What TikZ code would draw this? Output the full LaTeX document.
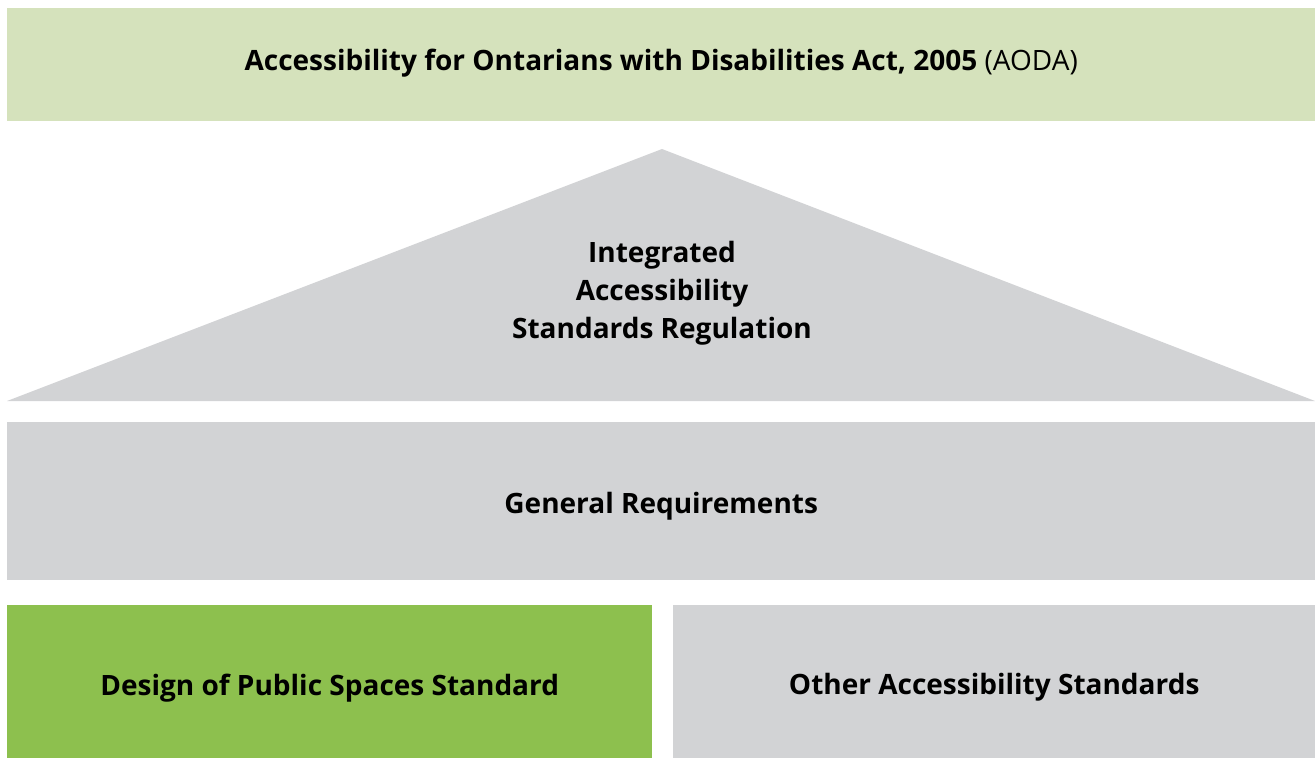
\documentclass[tikz,border=0pt]{standalone}
\usepackage{fontspec}
\setmainfont{Open Sans}
\usepackage{tikz}
\usetikzlibrary{positioning}

\definecolor{actgreen}{RGB}{213,226,188}
\definecolor{stdgrey}{RGB}{210,211,213}
\definecolor{dpsgreen}{RGB}{141,192,78}

\tikzset{
  block/.style={fill=stdgrey, draw=none, inner sep=0pt, anchor=north west},
  label/.style={font=\fontsize{28}{38}\selectfont\bfseries, align=center},
}

\begin{document}
\begin{tikzpicture}[x=1pt, y=-1pt]
  \useasboundingbox (0,0) rectangle (1315,758);
  % act banner
  \node[block, fill=actgreen, minimum width=1308pt, minimum height=113pt] (act) at (7,8) {};
  \node[label, yshift=2pt] (acttext) at (act.center)
    {Accessibility for Ontarians with Disabilities Act, 2005 \mdseries(AODA)};
  % regulation roof
  \fill[stdgrey] (7,401) -- (662,149) -- (1315,401) -- cycle;
  \node[label] (ias) at (662,293) {Integrated\\Accessibility\\Standards Regulation};
  % general requirements
  \node[block, minimum width=1308pt, minimum height=158pt] (gen) at (7,422) {};
  \node[label, yshift=-5pt] (gentext) at (gen.center) {General Requirements};
  % standards
  \node[block, fill=dpsgreen, minimum width=645pt, minimum height=153pt] (dps) at (7,605) {};
  \node[label, yshift=-6pt] (dpstext) at (dps.center) {Design of Public Spaces Standard};
  \node[block, minimum width=642pt, minimum height=153pt] (oth) at (673,605) {};
  \node[label, yshift=-6pt] (othtext) at (oth.center) {Other Accessibility Standards};
\end{tikzpicture}
\end{document}
